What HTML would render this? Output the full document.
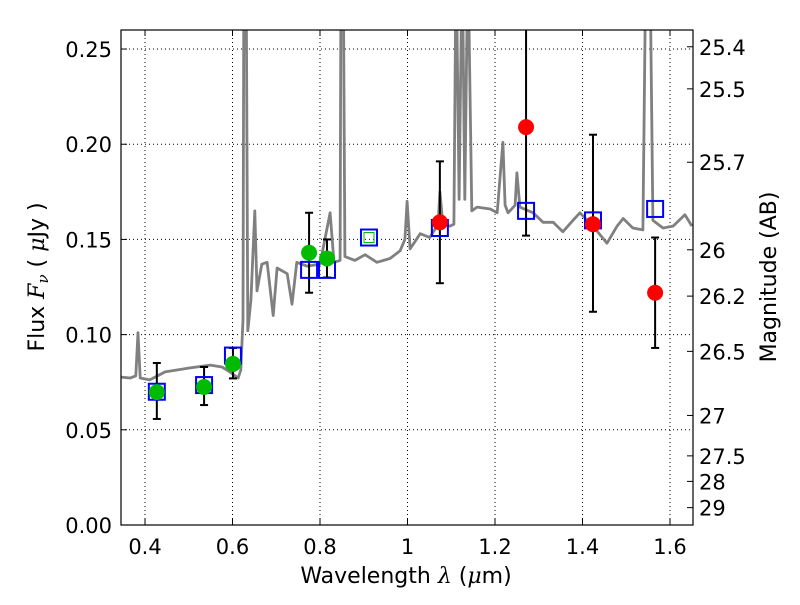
<!DOCTYPE html>
<html><head><meta charset="utf-8"><style>
body{margin:0;background:#fff;}
svg text{font-family:"DejaVu Sans","Liberation Sans",sans-serif;}
</style></head><body>
<svg id="chart" width="800" height="600" xmlns="http://www.w3.org/2000/svg"></svg>
<script>
// ---- data ----
const specWl=[0.345,0.366,0.379,0.384,0.389,0.411,0.446,0.503,0.549,0.576,0.594,0.613,0.619,0.624,0.626,0.631,0.635,0.642,0.651,0.656,0.667,0.679,0.693,0.702,0.725,0.736,0.747,0.770,0.800,0.823,0.832,0.846,0.848,0.853,0.857,0.880,0.903,0.930,0.960,0.983,0.994,0.999,1.006,1.029,1.051,1.070,1.074,1.081,1.097,1.106,1.111,1.118,1.125,1.131,1.138,1.147,1.159,1.189,1.205,1.211,1.218,1.223,1.230,1.246,1.250,1.257,1.287,1.310,1.333,1.355,1.378,1.394,1.424,1.456,1.479,1.493,1.515,1.538,1.545,1.554,1.561,1.584,1.607,1.634,1.650];
const specFlux=[0.0777,0.0772,0.0783,0.101,0.0772,0.0762,0.0804,0.0825,0.0840,0.0830,0.0804,0.0772,0.0814,0.108,0.30,0.30,0.102,0.118,0.165,0.123,0.137,0.138,0.110,0.135,0.132,0.116,0.138,0.136,0.137,0.164,0.138,0.139,0.30,0.30,0.141,0.139,0.142,0.138,0.140,0.144,0.150,0.170,0.145,0.153,0.151,0.158,0.175,0.158,0.157,0.158,0.30,0.171,0.30,0.171,0.30,0.165,0.167,0.166,0.164,0.181,0.201,0.168,0.164,0.168,0.185,0.167,0.164,0.159,0.159,0.154,0.160,0.164,0.157,0.148,0.157,0.161,0.156,0.155,0.30,0.30,0.160,0.156,0.157,0.163,0.157];
const greenWl=[0.427,0.535,0.601,0.775,0.816];
const greenFlux=[0.0698,0.0725,0.0846,0.143,0.140];
const greenHi=[0.0851,0.083,0.093,0.164,0.150];
const greenLo=[0.0557,0.063,0.077,0.122,0.130];
const redWl=[1.074,1.271,1.424,1.566];
const redFlux=[0.159,0.209,0.158,0.122];
const redHi=[0.191,0.30,0.205,0.151];
const redLo=[0.127,0.152,0.112,0.093];
const modelWl=[0.427,0.535,0.601,0.775,0.816,0.912,1.074,1.271,1.424,1.566];
const modelFlux=[0.070,0.0735,0.089,0.134,0.134,0.151,0.156,0.165,0.160,0.166];
const xTicks=[0.4,0.6,0.8,1.0,1.2,1.4,1.6];
const xTickLabels=["0.4","0.6","0.8","1","1.2","1.4","1.6"];
const yTicks=[0,0.05,0.10,0.15,0.20,0.25];
const yTickLabels=["0.00","0.05","0.10","0.15","0.20","0.25"];
const magTicks=[25.4,25.5,25.7,26,26.2,26.5,27,27.5,28,29];
const magLabels=["25.4","25.5","25.7","26","26.2","26.5","27","27.5","28","29"];

const L=121,R=693,T=30,B=525;
const xMin=0.3451,xMax=1.6526,yMin=0,yMax=0.26;
const X=v=>L+(v-xMin)/(xMax-xMin)*(R-L);
const Y=v=>B-(v-yMin)/(yMax-yMin)*(B-T);
const NS="http://www.w3.org/2000/svg";
const svg=document.getElementById('chart');
function mk(tag,attrs,parent){const e=document.createElementNS(NS,tag);for(const k in attrs)e.setAttribute(k,attrs[k]);(parent||svg).appendChild(e);return e;}

const defs=mk('defs',{});
const cp=mk('clipPath',{id:'clip'},defs);
mk('rect',{x:L,y:T,width:R-L,height:B-T},cp);

const grid=mk('g',{});


xTicks.forEach(v=>{mk('line',{x1:X(v),x2:X(v),y1:T,y2:B,stroke:'#000','stroke-width':1,'stroke-dasharray':'1,3'},grid);});
yTicks.forEach(v=>{mk('line',{x1:L,x2:R,y1:Y(v),y2:Y(v),stroke:'#000','stroke-width':1,'stroke-dasharray':'1,3'},grid);});

const plot=mk('g',{'clip-path':'url(#clip)'});
const pts=specWl.map((w,i)=>X(w).toFixed(1)+','+Y(specFlux[i]).toFixed(1)).join(' ');
const spec=mk('polyline',{points:pts,fill:'none',stroke:'#808080','stroke-width':2.8,'stroke-linejoin':'round'},plot);



function errbar(w,lo,hi,name){
  const g=mk('g',{stroke:'#000','stroke-width':2},plot);
  
  
  const x=X(w);
  mk('line',{x1:x,x2:x,y1:Y(lo),y2:Y(hi)},g);
  mk('line',{x1:x-4,x2:x+4,y1:Y(lo),y2:Y(lo)},g);
  mk('line',{x1:x-4,x2:x+4,y1:Y(hi),y2:Y(hi)},g);
}
greenWl.forEach((w,i)=>errbar(w,greenLo[i],greenHi[i],'green-errorbar'));
redWl.forEach((w,i)=>errbar(w,redLo[i],redHi[i],'red-errorbar'));
modelWl.forEach((w,i)=>{
  const r=mk('rect',{x:X(w)-8,y:Y(modelFlux[i])-8,width:16,height:16,fill:'none',stroke:'#0000ff','stroke-width':2},plot);
  
  
});
const gs=mk('rect',{x:X(modelWl[5])-5,y:Y(modelFlux[5])-5,width:10,height:10,fill:'none',stroke:'#00bb00','stroke-width':1},plot);


greenWl.forEach((w,i)=>{
  const c=mk('circle',{cx:X(w),cy:Y(greenFlux[i]),r:8,fill:'#00bb00'},plot);
  
  
});
redWl.forEach((w,i)=>{
  const c=mk('circle',{cx:X(w),cy:Y(redFlux[i]),r:8,fill:'#ff0000'},plot);
  
  
});

const fr=mk('rect',{x:L,y:T,width:R-L,height:B-T,fill:'none',stroke:'#000','stroke-width':1.2});



xTicks.forEach((v,i)=>{
  mk('line',{x1:X(v),x2:X(v),y1:B,y2:B-6,stroke:'#000'});
  mk('line',{x1:X(v),x2:X(v),y1:T,y2:T+6,stroke:'#000'});
  const t=mk('text',{x:X(v),y:B+29,'font-size':21,'text-anchor':'middle'});
  t.textContent=xTickLabels[i];
  
  
});
yTicks.forEach((v,i)=>{
  mk('line',{x1:L,x2:L+6,y1:Y(v),y2:Y(v),stroke:'#000'});
  const t=mk('text',{x:L-9,y:Y(v)+8,'font-size':21,'text-anchor':'end'});
  t.textContent=yTickLabels[i];
  
  
});
magTicks.forEach((m,i)=>{
  const f=Math.pow(10,(23.9-m)/2.5);
  mk('line',{x1:R,x2:R-6,y1:Y(f),y2:Y(f),stroke:'#000'});
  const t=mk('text',{x:R+6,y:Y(f)+8,'font-size':21,'text-anchor':'start'});
  t.textContent=magLabels[i];
  
  
});
</script>
<svg style="position:absolute;left:0;top:0" width="800" height="600" xmlns="http://www.w3.org/2000/svg">
<text x="406" y="583" font-size="22" text-anchor="middle" font-family="DejaVu Sans, Liberation Sans, sans-serif">Wavelength  <tspan font-style="italic" font-family="DejaVu Serif, serif">λ</tspan> (<tspan font-style="italic" font-family="DejaVu Serif, serif">μ</tspan>m)</text>
<text transform="translate(44,277) rotate(-90)" font-size="22" text-anchor="middle" font-family="DejaVu Sans, Liberation Sans, sans-serif">Flux  <tspan font-style="italic" font-family="DejaVu Serif, serif">F<tspan font-size="15" dy="4">ν</tspan></tspan><tspan dy="-4">  ( </tspan><tspan font-style="italic" font-family="DejaVu Serif, serif">μ</tspan>Jy )</text>
<text transform="translate(776,277) rotate(-90)" font-size="22" text-anchor="middle" font-family="DejaVu Sans, Liberation Sans, sans-serif">Magnitude (AB)</text>
</svg>
</body></html>
